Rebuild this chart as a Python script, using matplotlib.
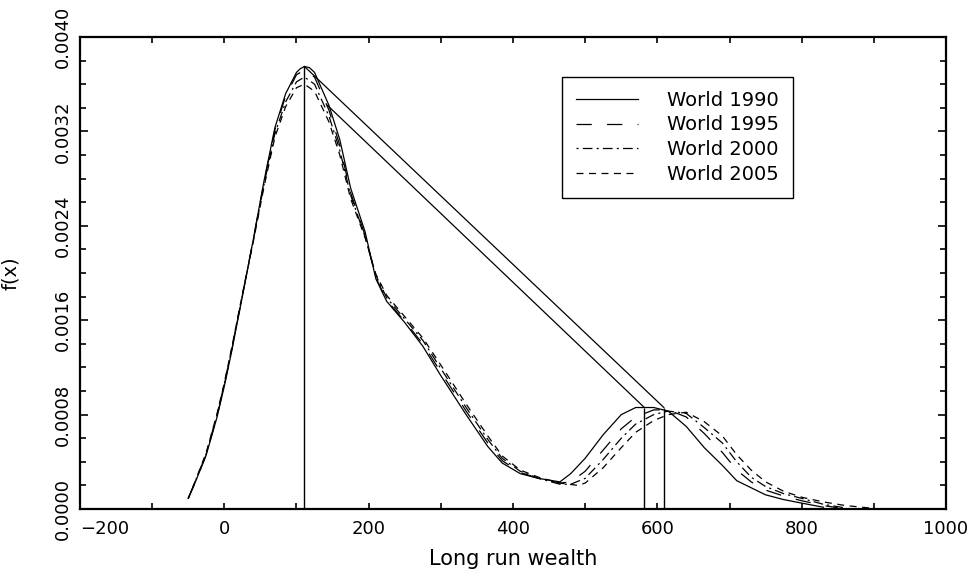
import matplotlib
matplotlib.use('Agg')
import matplotlib.pyplot as plt
from matplotlib.ticker import MultipleLocator, FixedLocator
import numpy as np

plt.rcParams['font.family'] = 'DejaVu Sans'
plt.rcParams['lines.scale_dashes'] = False

# Densidad de la riqueza de largo plazo (en 1e-4)
x_1990 = [-50, -40, -25, -10, 0, 10, 25, 40, 55, 70, 85, 100, 105, 111, 118, 125, 145, 160,
          175, 195, 210, 225, 250, 275, 300, 335, 365, 385, 410, 435, 465, 480, 500, 525,
          550, 570, 595, 615, 640, 665, 690, 710, 730, 750, 775, 800, 830]
y_1990 = [0.9, 2.3, 4.6, 7.8, 10.4, 13.3, 18.0, 22.8, 27.8, 32.3, 35.2, 37.0, 37.3, 37.5,
          37.4, 37.0, 34.2, 31.3, 27.2, 23.5, 19.5, 17.6, 15.8, 13.8, 11.3, 8.0, 5.3, 3.9,
          3.0, 2.6, 2.3, 3.0, 4.3, 6.3, 8.0, 8.6, 8.6, 8.3, 7.0, 5.2, 3.7, 2.4, 1.8, 1.2,
          0.8, 0.5, 0.15]

x_1995 = [-50, -40, -25, -10, 0, 10, 25, 40, 55, 70, 85, 100, 111, 125, 145, 160, 175, 195,
          210, 225, 250, 275, 300, 335, 365, 385, 410, 435, 465, 480, 500, 525, 550, 570,
          595, 615, 640, 665, 690, 710, 730, 750, 775, 800, 830, 850]
y_1995 = [0.9, 2.3, 4.6, 7.9, 10.5, 13.4, 18.1, 22.8, 27.7, 32.1, 35.0, 36.8, 37.2, 36.6,
          33.8, 30.8, 26.8, 23.2, 19.6, 17.7, 15.9, 14.0, 11.6, 8.3, 5.6, 4.1, 3.1, 2.6,
          2.2, 2.3, 3.2, 5.0, 6.8, 7.8, 8.4, 8.4, 7.8, 6.4, 4.8, 3.3, 2.3, 1.6, 1.1, 0.7,
          0.3, 0.1]

x_2000 = [-50, -40, -25, -10, 0, 10, 25, 40, 55, 70, 85, 100, 111, 125, 145, 160, 175, 195,
          210, 225, 250, 275, 300, 335, 365, 385, 410, 435, 465, 480, 500, 525, 550, 570,
          595, 615, 640, 665, 690, 710, 730, 750, 775, 800, 830, 860]
y_2000 = [0.9, 2.4, 4.7, 8.0, 10.6, 13.5, 18.1, 22.7, 27.5, 31.8, 34.5, 36.2, 36.6, 36.0,
          33.3, 30.4, 26.6, 23.1, 19.8, 17.9, 16.1, 14.3, 11.9, 8.6, 5.9, 4.3, 3.2, 2.6,
          2.1, 2.1, 2.6, 4.2, 6.0, 7.2, 8.0, 8.3, 8.1, 6.9, 5.6, 4.0, 2.7, 1.9, 1.3, 0.9,
          0.4, 0.1]

x_2005 = [-50, -40, -25, -10, 0, 10, 25, 40, 55, 70, 85, 100, 111, 125, 145, 160, 175, 195,
          210, 225, 250, 275, 300, 335, 365, 385, 410, 435, 465, 490, 500, 525, 550, 570,
          595, 615, 640, 665, 690, 710, 730, 750, 775, 800, 830, 860, 900]
y_2005 = [0.9, 2.4, 4.8, 8.1, 10.7, 13.6, 18.2, 22.6, 27.3, 31.5, 34.1, 35.7, 36.0, 35.4,
          32.8, 30.0, 26.3, 23.0, 19.9, 18.1, 16.3, 14.5, 12.2, 8.9, 6.2, 4.5, 3.3, 2.7,
          2.2, 2.0, 2.2, 3.5, 5.2, 6.5, 7.5, 8.0, 8.2, 7.4, 6.2, 4.6, 3.3, 2.3, 1.5, 1.0,
          0.6, 0.3, 0.05]

# modas y lineas rectas que aparecen en el original
x_modes = [111, 582, 609]
y_modes = [37.5, 8.6, 8.6]
x_diag_a = [111, 609]
y_diag_a = [37.5, 8.6]
x_diag_b = [143, 582]
y_diag_b = [34.2, 8.6]

labels = ['World 1990', 'World 1995', 'World 2000', 'World 2005']
styles = ['-', (0, (11, 11)), (0, (1.5, 3, 7, 3)), (0, (5, 4))]
x_ticks = [-200, 0, 200, 400, 600, 800, 1000]
y_ticks = [0, 0.0008, 0.0016, 0.0024, 0.0032, 0.004]
y_tick_labels = ['0.0000', '0.0008', '0.0016', '0.0024', '0.0032', '0.0040']

fig = plt.figure(figsize=(9.74, 5.76), dpi=100)
ax = fig.add_axes([0.0821, 0.1163, 0.8892, 0.8195])

series = [(x_1990, y_1990), (x_1995, y_1995), (x_2000, y_2000), (x_2005, y_2005)]
for (xs, ys), lab, ls in zip(series, labels, styles):
    ax.plot(xs, np.array(ys) * 1e-4, color='black', lw=0.9, linestyle=ls, label=lab)

ax.vlines(x_modes, 0, np.array(y_modes) * 1e-4, color='black', lw=1.0)
ax.plot(x_diag_a, np.array(y_diag_a) * 1e-4, color='black', lw=0.9)
ax.plot(x_diag_b, np.array(y_diag_b) * 1e-4, color='black', lw=0.9)

ax.set_xlim(-200, 1000)
ax.set_ylim(0, 0.004)
ax.xaxis.set_major_locator(FixedLocator(x_ticks))
ax.xaxis.set_minor_locator(MultipleLocator(100))
ax.set_xticklabels(['\u2212200'] + [str(v) for v in x_ticks[1:]])
ax.get_xticklabels()[0].set_horizontalalignment('left')
ax.yaxis.set_major_locator(FixedLocator(y_ticks))
ax.yaxis.set_minor_locator(MultipleLocator(0.0002))
ax.set_yticklabels(y_tick_labels, rotation=90, va='center')

ax.tick_params(axis='both', which='both', direction='in', top=True, right=True,
               width=1.2, labelsize=13)
ax.tick_params(axis='x', which='both', length=4, pad=8)
ax.tick_params(axis='y', which='major', length=6, pad=6)
ax.tick_params(axis='y', which='minor', length=4)
for sp in ax.spines.values():
    sp.set_linewidth(1.6)

ax.set_xlabel('Long run wealth', fontsize=15, labelpad=8)
ax.set_ylabel('f(x)', fontsize=14, labelpad=24)

leg = ax.legend(loc='upper right', bbox_to_anchor=(0.834, 0.936), fontsize=14,
                handlelength=3.2, handletextpad=1.5, fancybox=False, framealpha=1,
                edgecolor='black', borderpad=0.7, labelspacing=0.3)
leg.get_frame().set_linewidth(1.0)

fig.savefig('out.png', dpi=100)
